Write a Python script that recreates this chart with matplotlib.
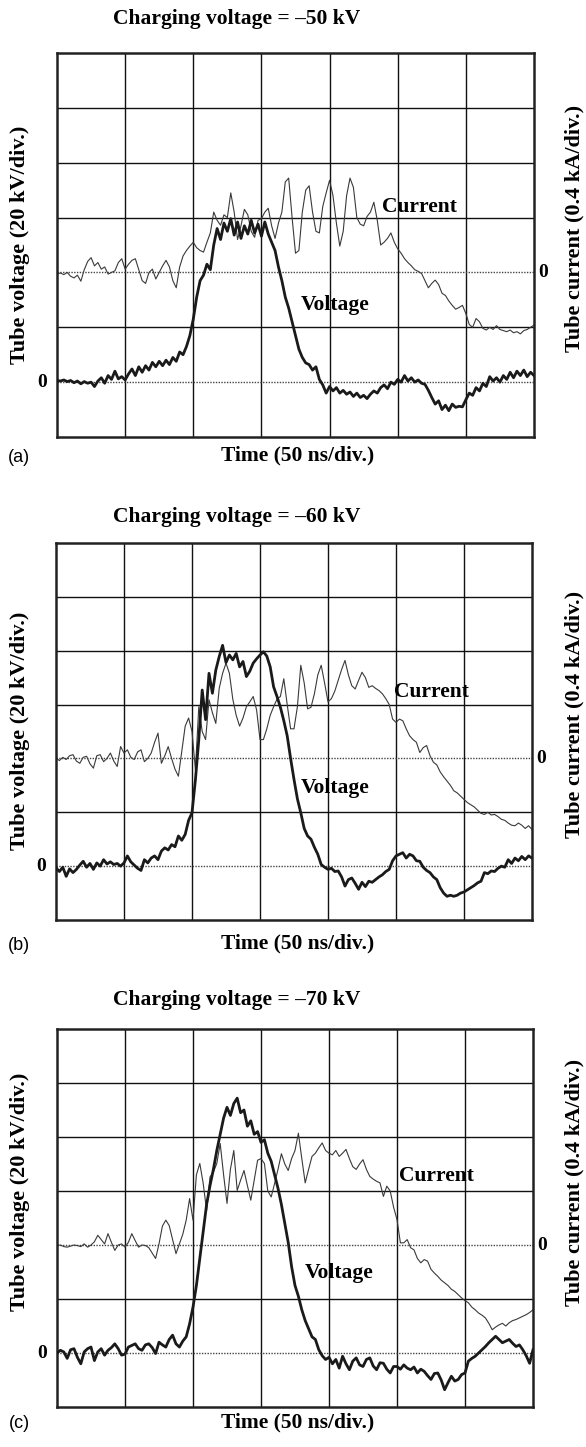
"""Tube voltage and tube current oscilloscope traces for three charging voltages."""

import matplotlib
matplotlib.use("Agg")
import matplotlib.pyplot as plt
import numpy as np

W, H = 586, 1447

PANEL_TAGS = ["(a)", "(b)", "(c)"]
CHARGING = ["Charging voltage = \u201350 kV", "Charging voltage = \u201360 kV",
            "Charging voltage = \u201370 kV"]

# traces in screen divisions (x: 0..7, y: 0..7), sampled every 0.05 div
# voltage zero sits at 1 div, current zero at 3 div
A_VOLT = [1.03, 1.02, 1.04, 1.01, 1.03, 0.99, 1.02, 0.97, 1.01, 0.98,
          1.00, 0.92, 1.02, 1.08, 0.98, 1.12, 1.05, 1.20, 1.06, 1.10,
          1.04, 1.15, 1.24, 1.12, 1.28, 1.18, 1.30, 1.22, 1.36, 1.28,
          1.38, 1.30, 1.40, 1.32, 1.45, 1.38, 1.55, 1.50, 1.65, 1.85,
          2.15, 2.55, 2.85, 2.95, 3.15, 3.05, 3.50, 3.80, 3.60, 3.90,
          3.75, 3.98, 3.68, 3.92, 3.62, 3.85, 3.70, 3.95, 3.72, 3.88,
          3.66, 3.92, 3.70, 3.55, 3.40, 3.10, 2.85, 2.55, 2.35, 2.10,
          1.85, 1.60, 1.45, 1.35, 1.32, 1.22, 1.28, 1.05, 0.95, 0.80,
          0.92, 0.84, 0.90, 0.80, 0.85, 0.78, 0.82, 0.74, 0.80, 0.72,
          0.76, 0.70, 0.78, 0.84, 0.80, 0.90, 0.95, 0.88, 1.00, 0.96,
          1.05, 1.00, 1.12, 1.02, 1.08, 1.00, 1.04, 0.98, 0.96, 0.85,
          0.72, 0.60, 0.66, 0.50, 0.58, 0.48, 0.60, 0.54, 0.56, 0.55,
          0.68, 0.80, 0.76, 0.90, 0.84, 0.98, 0.92, 1.10, 1.02, 1.08,
          1.00, 1.12, 1.05, 1.18, 1.08, 1.20, 1.12, 1.22, 1.10, 1.18,
          1.12]
A_CURR = [2.97, 2.99, 2.96, 3.00, 2.93, 2.90, 2.95, 2.84, 3.05, 3.20,
          3.27, 3.12, 3.18, 3.06, 3.10, 2.97, 3.00, 3.03, 3.18, 3.25,
          3.06, 3.15, 3.22, 3.25, 3.05, 2.85, 2.80, 3.00, 3.06, 2.88,
          3.00, 3.12, 3.22, 3.10, 2.85, 2.72, 3.10, 3.30, 3.40, 3.48,
          3.55, 3.45, 3.40, 3.37, 3.55, 3.72, 4.10, 3.95, 3.86, 4.05,
          4.00, 4.45, 4.10, 3.60, 3.85, 4.15, 4.05, 3.75, 3.64, 3.95,
          3.98, 4.10, 4.17, 3.85, 3.62, 3.90, 4.10, 4.65, 4.72, 4.00,
          3.35, 3.40, 4.10, 4.50, 4.58, 4.10, 3.75, 3.72, 4.20, 4.45,
          4.68, 4.40, 3.90, 3.48, 3.75, 4.40, 4.72, 4.55, 4.00, 3.88,
          3.85, 4.02, 4.10, 4.28, 3.95, 3.50, 3.55, 3.62, 3.72, 3.55,
          3.43, 3.35, 3.25, 3.18, 3.12, 3.05, 3.02, 2.98, 2.85, 2.72,
          2.80, 2.86, 2.78, 2.62, 2.58, 2.48, 2.40, 2.33, 2.36, 2.40,
          2.25, 2.05, 2.00, 2.16, 2.10, 1.98, 1.95, 2.00, 1.96, 2.03,
          1.96, 1.94, 1.92, 1.95, 1.90, 1.92, 1.88, 1.94, 1.96, 2.00,
          2.04]

B_VOLT = [0.97, 0.90, 0.98, 0.81, 0.95, 0.88, 0.94, 1.02, 1.09, 0.98,
          1.05, 0.94, 1.06, 1.00, 1.12, 1.04, 1.08, 1.03, 1.05, 1.00,
          1.06, 1.19, 1.08, 1.02, 0.96, 0.92, 1.12, 1.06, 1.15, 1.19,
          1.12, 1.28, 1.34, 1.30, 1.40, 1.36, 1.56, 1.48, 1.59, 1.85,
          1.99, 2.60, 3.35, 4.27, 3.72, 4.58, 4.21, 4.64, 4.89, 5.10,
          4.78, 4.92, 4.83, 4.95, 4.70, 4.80, 4.52, 4.62, 4.77, 4.85,
          4.92, 4.98, 4.90, 4.70, 4.33, 4.15, 3.95, 3.70, 3.42, 3.00,
          2.61, 2.25, 1.99, 1.70, 1.56, 1.50, 1.35, 1.22, 1.03, 0.98,
          0.94, 0.96, 0.90, 0.91, 0.80, 0.63, 0.75, 0.78, 0.68, 0.57,
          0.70, 0.62, 0.72, 0.70, 0.75, 0.80, 0.84, 0.90, 0.94, 1.10,
          1.19, 1.22, 1.25, 1.15, 1.22, 1.19, 1.10, 1.09, 0.98, 0.92,
          0.88, 0.80, 0.75, 0.60, 0.50, 0.44, 0.46, 0.44, 0.46, 0.50,
          0.52, 0.56, 0.60, 0.64, 0.69, 0.72, 0.88, 0.86, 0.91, 0.90,
          0.96, 1.00, 0.98, 1.12, 1.05, 1.15, 1.10, 1.18, 1.12, 1.19,
          1.15]
B_CURR = [3.01, 2.96, 3.02, 2.98, 3.05, 3.07, 2.95, 2.91, 3.02, 3.04,
          2.90, 2.82, 3.05, 3.07, 2.94, 3.00, 3.10, 2.95, 2.85, 3.22,
          3.10, 3.16, 3.02, 2.98, 3.12, 3.16, 2.94, 3.00, 3.10, 3.30,
          3.47, 2.91, 3.05, 3.22, 3.00, 2.80, 2.67, 3.13, 3.60, 3.75,
          3.50, 2.79, 3.96, 3.50, 3.35, 4.09, 3.85, 3.65, 4.30, 4.58,
          4.77, 4.58, 4.10, 3.80, 3.60, 3.75, 3.96, 4.05, 4.15, 3.90,
          3.35, 3.35, 3.55, 3.80, 3.96, 4.10, 4.15, 4.48, 4.00, 3.55,
          3.55, 3.96, 4.73, 4.40, 3.92, 3.95, 4.20, 4.55, 4.73, 4.40,
          4.05, 4.11, 4.25, 4.45, 4.65, 4.82, 4.55, 4.35, 4.29, 4.45,
          4.60, 4.50, 4.32, 4.35, 4.30, 4.26, 4.20, 4.11, 4.00, 3.73,
          3.67, 3.73, 3.70, 3.55, 3.42, 3.35, 3.30, 3.11, 3.20, 3.24,
          3.05, 2.93, 2.88, 2.75, 2.66, 2.58, 2.50, 2.40, 2.36, 2.30,
          2.24, 2.18, 2.14, 2.10, 2.04, 1.98, 1.96, 2.00, 1.95, 1.96,
          1.92, 1.87, 1.85, 1.80, 1.76, 1.75, 1.80, 1.76, 1.70, 1.75,
          1.68]

C_VOLT = [1.00, 1.05, 1.02, 0.90, 1.06, 1.08, 0.92, 0.80, 1.02, 1.08,
          1.11, 0.86, 1.02, 1.08, 0.96, 1.05, 1.10, 1.17, 1.08, 0.96,
          0.98, 1.11, 1.14, 1.17, 1.08, 1.05, 1.15, 1.17, 1.10, 0.99,
          1.20, 1.15, 1.11, 1.25, 1.33, 1.17, 1.11, 1.22, 1.30, 1.54,
          1.85, 2.25, 2.75, 3.25, 3.75, 4.10, 4.40, 4.75, 5.05, 5.35,
          5.55, 5.40, 5.62, 5.72, 5.45, 5.50, 5.20, 5.30, 5.05, 5.10,
          4.90, 4.95, 4.70, 4.55, 4.30, 4.05, 3.75, 3.40, 3.05, 2.60,
          2.25, 2.05, 1.80, 1.60, 1.45, 1.30, 1.25, 1.06, 0.95, 0.88,
          0.92, 0.80, 0.88, 0.72, 0.94, 0.80, 0.69, 0.85, 0.91, 0.78,
          0.75, 0.88, 0.91, 0.76, 0.69, 0.82, 0.81, 0.70, 0.63, 0.75,
          0.75, 0.70, 0.78, 0.72, 0.69, 0.74, 0.63, 0.70, 0.66, 0.58,
          0.51, 0.62, 0.63, 0.50, 0.32, 0.45, 0.57, 0.48, 0.51, 0.60,
          0.63, 0.85, 0.90, 0.94, 1.00, 1.06, 1.12, 1.19, 1.25, 1.31,
          1.25, 1.19, 1.22, 1.25, 1.18, 1.12, 1.15, 1.06, 0.95, 0.81,
          1.06]
C_CURR = [2.99, 3.00, 2.97, 2.96, 2.98, 3.00, 2.99, 2.97, 3.02, 2.96,
          3.00, 3.06, 3.18, 3.10, 3.02, 3.21, 3.05, 2.90, 3.00, 3.02,
          2.96, 3.05, 3.21, 3.08, 2.96, 3.00, 2.99, 2.95, 2.85, 2.75,
          3.02, 3.35, 3.46, 3.36, 3.10, 2.84, 3.02, 3.20, 3.46, 3.86,
          3.46, 4.30, 4.51, 4.14, 3.64, 4.26, 4.35, 4.51, 4.88, 4.30,
          3.77, 4.40, 4.75, 4.01, 4.20, 4.38, 4.10, 3.83, 4.20, 4.57,
          4.60, 4.51, 4.00, 3.89, 4.14, 4.40, 4.69, 4.50, 4.38, 4.60,
          4.75, 5.07, 4.60, 4.15, 4.40, 4.64, 4.70, 4.80, 4.89, 4.75,
          4.70, 4.67, 4.75, 4.64, 4.70, 4.77, 4.60, 4.45, 4.40, 4.50,
          4.58, 4.40, 4.27, 4.22, 4.18, 4.15, 3.90, 4.09, 4.00, 3.70,
          3.47, 3.04, 3.04, 3.10, 2.95, 2.91, 2.75, 2.67, 2.73, 2.70,
          2.55, 2.48, 2.42, 2.35, 2.30, 2.25, 2.18, 2.14, 2.08, 2.02,
          1.97, 1.93, 1.85, 1.80, 1.74, 1.70, 1.65, 1.55, 1.43, 1.48,
          1.52, 1.55, 1.50, 1.56, 1.60, 1.62, 1.65, 1.68, 1.71, 1.75,
          1.80]

VOLTS = [A_VOLT, B_VOLT, C_VOLT]
CURRS = [A_CURR, B_CURR, C_CURR]

# label positions (x div, y div)
CURR_LABEL_POS = [(4.77, 4.2), (4.97, 4.23), (5.03, 4.27)]
VOLT_LABEL_POS = [(3.57, 2.4), (3.6, 2.45), (3.65, 2.48)]

# box pixel extents: left, right, top, bottom
BOXES = [(57, 534, 53, 437), (56, 532, 543, 920), (57, 533, 1029, 1407)]
TITLE_Y = [19, 517, 1000]
TIME_Y = [455, 943, 1422]
LEFT_LABEL_Y = [245, 731, 1192]
RIGHT_LABEL_Y = [228, 714, 1182]

SERIF = ["Liberation Serif", "DejaVu Serif"]


def fig_text(fig, x, y, s, **kw):
    fig.text(x / W, 1 - y / H, s, **kw)


def draw_panel(fig, k):
    left, right, top, bottom = BOXES[k]
    ax = fig.add_axes([left / W, 1 - bottom / H, (right - left) / W, (bottom - top) / H])
    ax.set_xlim(0, 7)
    ax.set_ylim(0, 7)
    ax.set_xticks([])
    ax.set_yticks([])
    for spine in ax.spines.values():
        spine.set_linewidth(1.8)
        spine.set_color("#222222")

    for gx in range(1, 7):
        ax.axvline(gx, color="#111111", lw=1.0, zorder=1)
    for gy in (2, 4, 5, 6):
        ax.axhline(gy, color="#111111", lw=1.0, zorder=1)
    for gy in (1, 3):
        ax.axhline(gy, color="#444444", lw=1.0, ls=(0, (1, 1)), zorder=1)

    volt = np.array(VOLTS[k])
    curr = np.array(CURRS[k])
    ax.plot(np.linspace(0, 7, len(curr)), curr, color="#3a3a3a", lw=0.8, zorder=2)
    ax.plot(np.linspace(0, 7, len(volt)), volt, color="#1a1a1a", lw=2.0, zorder=3)

    cx, cy = CURR_LABEL_POS[k]
    ax.text(cx, cy, "Current", family=SERIF, fontweight="bold", fontsize=15.5,
            ha="left", va="center", zorder=4)
    vx, vy = VOLT_LABEL_POS[k]
    ax.text(vx, vy, "Voltage", family=SERIF, fontweight="bold", fontsize=15.5,
            ha="left", va="center", zorder=4)

    ax.text(-0.031, 1, "0", transform=ax.get_yaxis_transform(), family=SERIF,
            fontweight="bold", fontsize=14, ha="center", va="center")
    ax.text(1.019, 3, "0", transform=ax.get_yaxis_transform(), family=SERIF,
            fontweight="bold", fontsize=14, ha="center", va="center")

    fig_text(fig, 237, TITLE_Y[k], CHARGING[k], family=SERIF, fontweight="bold",
             fontsize=15.5, ha="center", va="center")
    fig_text(fig, 298, TIME_Y[k], "Time (50 ns/div.)", family=SERIF, fontweight="bold",
             fontsize=15.5, ha="center", va="center")
    fig_text(fig, 19, TIME_Y[k] + 2, PANEL_TAGS[k], family=["Liberation Sans", "DejaVu Sans"],
             fontsize=13, ha="center", va="center")
    fig_text(fig, 20, LEFT_LABEL_Y[k], "Tube voltage (20 kV/div.)", family=SERIF,
             fontweight="bold", fontsize=16, rotation=90, ha="center", va="center")
    fig_text(fig, 574, RIGHT_LABEL_Y[k], "Tube current (0.4 kA/div.)", family=SERIF,
             fontweight="bold", fontsize=16, rotation=90, ha="center", va="center")


def main():
    fig = plt.figure(figsize=(W / 100, H / 100), dpi=100)
    fig.patch.set_facecolor("white")
    for k in range(3):
        draw_panel(fig, k)
    fig.savefig("out.png", dpi=100, facecolor="white")


if __name__ == "__main__":
    main()
